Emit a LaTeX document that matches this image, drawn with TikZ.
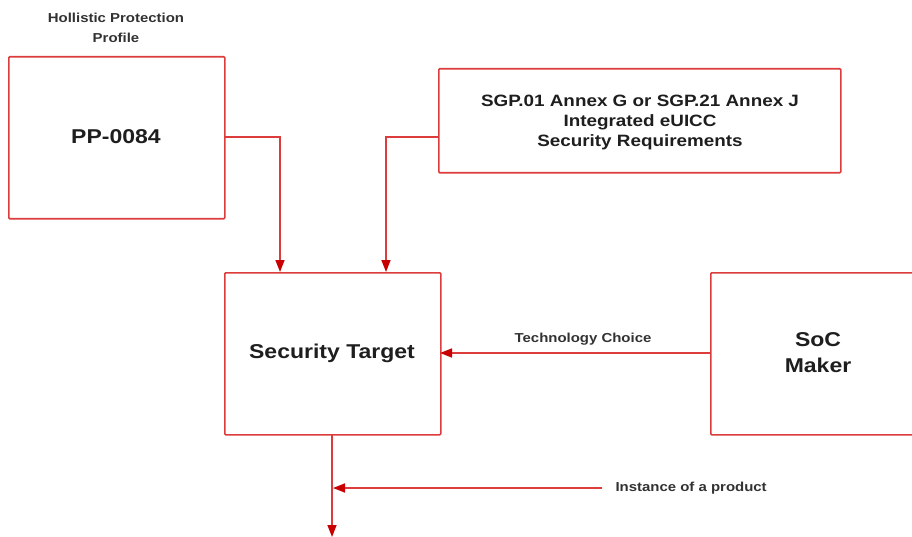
\documentclass[tikz,border=0pt]{standalone}
\usepackage{fontspec}
\setmainfont{Liberation Sans}
\newfontfamily\widesans[FakeStretch=1.15]{Liberation Sans}
\usetikzlibrary{arrows.meta}
\definecolor{boxred}{RGB}{220,60,60}
\definecolor{arrred}{RGB}{200,0,0}
\definecolor{txt}{RGB}{30,30,30}
\definecolor{lbl}{RGB}{50,50,50}
\tikzset{
  box/.style={draw=boxred, line width=1.6pt, rounded corners=1pt, inner sep=0pt, anchor=north west},
  big/.style={font=\widesans\fontsize{20}{26}\selectfont\bfseries, text=txt, align=center},
  mid/.style={font=\widesans\fontsize{16.4}{20}\selectfont\bfseries, text=txt, align=center},
  small/.style={font=\widesans\fontsize{13}{20}\selectfont\bfseries, text=lbl, align=center},
  conn/.style={draw=boxred, line width=1.6pt, -{Triangle[length=12pt,width=9pt,color=arrred]}},
}
\begin{document}
\begin{tikzpicture}[x=1pt,y=-1pt]
\useasboundingbox (0,0) rectangle (912,537);
\clip (0,0) rectangle (912,537);
% boxes
\node[box, minimum width=216pt, minimum height=162pt] (pp) at (8,56) {};
\node[big] (pptxt) at (116,137) {PP-0084};
\node[small] (pplbl) at (116,28) {Hollistic Protection\\Profile};
\node[box, minimum width=402pt, minimum height=104pt] (sgp) at (438,68) {};
\node[mid] (sgptxt) at (640,122) {SGP.01 Annex G or SGP.21 Annex J\\Integrated eUICC\\Security Requirements};
\node[box, minimum width=216pt, minimum height=162pt] (st) at (224,272) {};
\node[big] (sttxt) at (332,353) {Security Target};
\node[box, minimum width=216pt, minimum height=162pt] (soc) at (710,272) {};
\node[big] (soctxt) at (818,353) {SoC\\Maker};
% coordinates
\coordinate (ppA) at (224,137);
\coordinate (ppB) at (280,137);
\coordinate (stA) at (280,272);
\coordinate (sgA) at (438,137);
\coordinate (sgB) at (386,137);
\coordinate (stB) at (386,272);
\coordinate (socA) at (710,353);
\coordinate (stC) at (440,353);
\coordinate (stD) at (332,434);
\coordinate (endD) at (332,537);
\coordinate (instA) at (602,488);
\coordinate (instB) at (333,488);
% connectors
\draw[conn] (ppA) -- (ppB) -- (stA);
\draw[conn] (sgA) -- (sgB) -- (stB);
\draw[conn] (socA) -- node[small, above=4pt, xshift=8pt] (tech) {Technology Choice} (stC);
\draw[conn] (stD) -- (endD);
\draw[conn] (instA) -- (instB);
\node[small, anchor=west] (inst) at (612,488) {Instance of a product};
\end{tikzpicture}
\end{document}
